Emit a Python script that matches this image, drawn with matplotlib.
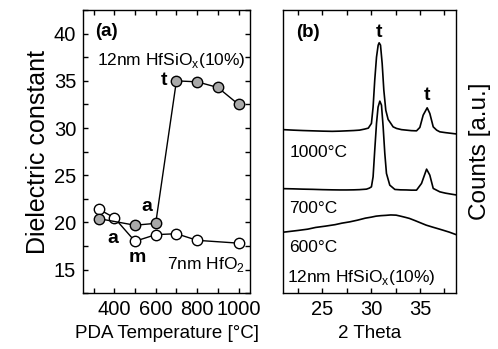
import matplotlib
matplotlib.use("Agg")
import matplotlib.pyplot as plt
from matplotlib.ticker import MultipleLocator

plt.rcParams['font.family'] = ['Liberation Sans', 'DejaVu Sans']
plt.rcParams['mathtext.fontset'] = 'custom'
plt.rcParams['mathtext.rm'] = 'Liberation Sans'

# (a) dielectric constant vs PDA temperature
temp_hfo2 = [325, 400, 500, 600, 700, 800, 1000]
k_hfo2 = [21.4, 20.5, 18.0, 18.7, 18.8, 18.1, 17.8]
temp_hfsio = [325, 500, 600, 700, 800, 900, 1000]
k_hfsio = [20.4, 19.7, 19.9, 35.0, 34.9, 34.3, 32.5]

# (b) XRD traces, counts in arbitrary units (offset per anneal)
tt_1000 = [21.0, 22.0, 23.0, 24.0, 25.0, 26.0, 26.8, 27.5, 28.2, 28.8, 29.3, 29.7,
           30.02, 30.19, 30.36, 30.54, 30.71, 30.81, 30.95, 31.12, 31.29, 31.49,
           31.73, 31.9, 32.24, 32.59, 33.1, 33.6, 34.1, 34.64, 34.98, 35.32, 35.73,
           36.0, 36.35, 36.7, 37.03, 37.6, 38.2, 38.7]
cnt_1000 = [163.5, 163.0, 162.6, 162.3, 162.0, 161.8, 162.0, 162.3, 162.6, 163.0, 164.0, 165.0,
            169.7, 186.0, 213.0, 236.0, 248.0, 250.3, 248.0, 229.7, 203.0, 183.0,
            173.7, 171.3, 166.3, 164.7, 163.5, 163.0, 162.5, 162.3, 165.7, 178.0, 185.3,
            179.7, 166.3, 163.0, 161.3, 160.5, 159.8, 159.2]
tt_700 = [21.0, 22.0, 23.0, 24.0, 25.0, 26.0, 26.8, 27.5, 28.2, 28.8, 29.51, 29.8,
          30.02, 30.19, 30.36, 30.54, 30.7, 30.88, 31.05, 31.22, 31.39, 31.56, 31.9,
          32.42, 33.0, 33.6, 34.1, 34.64, 35.15, 35.67, 36.0, 36.35, 37.03, 37.6,
          38.2, 38.7]
cnt_700 = [104.5, 104.3, 104.0, 103.8, 103.5, 103.3, 103.2, 103.2, 103.3, 103.5, 104.0, 105.0,
           106.3, 116.3, 143.0, 169.7, 186.0, 192.0, 188.0, 166.3, 139.7, 119.7, 108.0,
           103.7, 103.3, 103.2, 103.0, 103.0, 109.7, 124.0, 118.0, 104.7, 101.3, 100.0,
           99.0, 98.2]
tt_600 = [21.0, 21.3, 22.5, 23.5, 24.3, 25.3, 26.3, 27.0, 27.8, 28.6, 29.4, 30.0,
          30.5, 31.0, 31.5, 32.0, 32.55, 33.0, 33.5, 33.92, 34.5, 35.0, 35.63, 36.3,
          37.0, 37.34, 38.0, 38.7]
cnt_600 = [61.0, 61.3, 62.7, 64.0, 65.7, 67.0, 68.5, 70.0, 71.3, 73.0, 75.0, 76.0,
           77.0, 77.5, 77.8, 78.2, 78.0, 77.0, 75.8, 74.7, 72.5, 70.5, 68.0, 66.0,
           64.0, 63.0, 61.0, 58.5]

fig = plt.figure(figsize=(4.98, 3.49), dpi=100)
ax1 = fig.add_axes([0.167, 0.160, 0.335, 0.811])
ax2 = fig.add_axes([0.569, 0.160, 0.347, 0.811])

for ax in (ax1, ax2):
    for sp in ax.spines.values():
        sp.set_linewidth(1.0)
    ax.tick_params(which='both', direction='in', top=True, length=3.5,
                   width=1.0, labelsize=14.5, pad=5)

# ---- panel (a)
ax1.plot(temp_hfo2, k_hfo2, '-o', color='black', lw=1.0, ms=7.5,
         mfc='white', mec='black', mew=1.0)
ax1.plot(temp_hfsio, k_hfsio, '-o', color='black', lw=1.0, ms=7.5,
         mfc='#a9a9a9', mec='black', mew=1.0)
ax1.set_xlim(250, 1055)
ax1.set_ylim(12.5, 42.5)
ax1.xaxis.set_major_locator(MultipleLocator(200))
ax1.xaxis.set_minor_locator(MultipleLocator(100))
ax1.yaxis.set_major_locator(MultipleLocator(5))
ax1.yaxis.set_minor_locator(MultipleLocator(2.5))
ax1.tick_params(which='both', right=True)
ax1.set_xlabel('PDA Temperature [°C]', fontsize=13.5, labelpad=4)
ax1.set_ylabel('Dielectric constant', fontsize=18, labelpad=3)

ax1.text(306, 40.2, '(a)', fontsize=13.5, fontweight='bold', va='center')
ax1.text(316, 37.2, r'12nm HfSiO$_\mathregular{x}$(10%)', fontsize=12.5, va='center')
ax1.text(640, 35.0, 't', fontsize=14, fontweight='bold', ha='center', va='center')
ax1.text(558, 21.7, 'a', fontsize=14, fontweight='bold', ha='center', va='center')
ax1.text(392, 18.3, 'a', fontsize=14, fontweight='bold', ha='center', va='center')
ax1.text(510, 16.3, 'm', fontsize=14, fontweight='bold', ha='center', va='center')
ax1.text(1030, 15.5, r'7nm HfO$_\mathregular{2}$', fontsize=12.5, ha='right', va='center')

# ---- panel (b)
for tt, cnt in [(tt_1000, cnt_1000), (tt_700, cnt_700), (tt_600, cnt_600)]:
    ax2.plot(tt, cnt, color='black', lw=1.2)
ax2.set_xlim(21.0, 38.7)
ax2.set_ylim(0, 283)
ax2.xaxis.set_major_locator(MultipleLocator(5))
ax2.xaxis.set_minor_locator(MultipleLocator(2.5))
ax2.tick_params(axis='y', which='both', left=False, right=False, labelleft=False)
ax2.set_xlabel('2 Theta', fontsize=13.5, labelpad=4)
ax2.yaxis.set_label_position('right')
ax2.set_ylabel('Counts [a.u.]', fontsize=17.5, labelpad=9)

ax2.text(22.3, 261, '(b)', fontsize=13.5, fontweight='bold', va='center')
ax2.text(30.8, 261, 't', fontsize=14, fontweight='bold', ha='center', va='center')
ax2.text(35.75, 198, 't', fontsize=14, fontweight='bold', ha='center', va='center')
ax2.text(21.6, 141, '1000°C', fontsize=12.5, va='center')
ax2.text(21.6, 85, '700°C', fontsize=12.5, va='center')
ax2.text(21.6, 46, '600°C', fontsize=12.5, va='center')
ax2.text(21.4, 16, r'12nm HfSiO$_\mathregular{x}$(10%)', fontsize=12.5, va='center')

plt.savefig('out.png', dpi=100)
